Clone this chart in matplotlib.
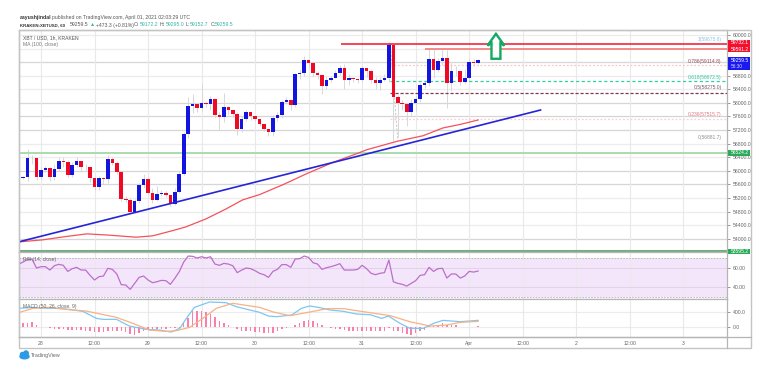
import numpy as np
import matplotlib
matplotlib.use('Agg')
import matplotlib.pyplot as plt
from matplotlib.patches import Polygon, Rectangle, Ellipse

plt.rcParams['font.family'] = ['Liberation Sans', 'DejaVu Sans']

# hours after 28 Mar 00:00, one candle per hour
first_hour = -5
first_open = 55760
closes = [55780, 55820, 56380, 56375, 55830, 56025, 56085, 55810, 56065, 56280, 56270, 55890, 56160, 56280, 56125, 56105,
          55790, 55535, 55790, 55770, 56360, 56240, 55957, 55183, 55153, 54790, 55125, 55595, 55770, 55350, 55153, 55320,
          55350, 55290, 55026, 55380, 55918, 57084, 57897, 57956, 57838, 57995, 57956, 58123, 57652, 57574, 57888, 57780,
          57682, 57241, 57525, 57721, 57603, 57525, 57378, 57241, 57133, 57545, 57643, 58025, 58093, 57946, 58848, 58868,
          59260, 59162, 58887, 58818, 58495, 58681, 58730, 58868, 59034, 58672, 58720, 58700, 58681, 59015, 58926, 58681,
          58583, 58681, 58730, 59700, 58162, 57995, 57966, 57731, 58005, 58113, 58534, 58593, 59279, 58966, 59220, 59309,
          58574, 58936, 58936, 58613, 58740, 59191, 59162, 59259.5]
highs = [55800, 55860, 56640, 56480, 56400, 56100, 56150, 56120, 56200, 56420, 56400, 56330, 56260, 56420, 56300, 56190,
         56100, 55830, 55850, 55830, 56480, 56400, 56280, 55980, 55260, 55200, 55180, 55640, 55900, 55800, 55500, 55560,
         55450, 55400, 55300, 55480, 56000, 57150, 58160, 58260, 57990, 58570, 58040, 58200, 58140, 57740, 58280, 57900,
         57780, 57720, 57620, 57800, 57680, 57600, 57460, 57300, 57200, 57640, 57720, 58090, 58170, 58110, 58880, 58980,
         59380, 59280, 59000, 58940, 58650, 58780, 58800, 58960, 59130, 59140, 58860, 58770, 58740, 59080, 59030, 58980,
         58750, 58760, 58840, 59790, 59700, 58240, 58080, 58000, 58120, 58210, 58600, 58680, 59580, 59580, 59320, 59580,
         59560, 59180, 59100, 58900, 59000, 59300, 59280, 59300]
lows = [55740, 55750, 55700, 56200, 55720, 55750, 55960, 55710, 55720, 56000, 56110, 55830, 55830, 56100, 55980, 56030,
        55680, 55450, 55430, 55600, 55650, 56160, 55900, 55100, 55080, 54740, 54760, 55060, 55500, 55280, 55040, 55100,
        55270, 55220, 54960, 55000, 55340, 55880, 56960, 57700, 57720, 57750, 57880, 57800, 57580, 57200, 57450, 57640,
        57590, 57060, 57150, 57480, 57500, 57460, 57320, 57170, 57020, 57030, 57480, 57570, 57960, 57800, 57890, 58700,
        58780, 59050, 58760, 58700, 58270, 58400, 58620, 58720, 58830, 58400, 58520, 58620, 58600, 58620, 58760, 58600,
        58400, 58380, 58640, 58620, 56890, 56990, 57800, 57310, 57620, 57760, 58040, 58440, 58500, 58720, 58900, 59120,
        57850, 58340, 58780, 58530, 58600, 58650, 59100, 59150]

ma_hours = [-4.8, 0.4, 5.6, 10.3, 15.4, 21.3, 25, 29.6, 32.5, 37, 41.5, 45.2, 49, 54.3, 59.6, 65.5, 70.8, 73.1, 79.8, 85.7, 90.1, 94, 98]
ma_values = [53909, 53968, 54066, 54144, 54105, 54046, 54085, 54242, 54350, 54585, 54879, 55144, 55300, 55595, 55918, 56250,
             56506, 56624, 56868, 57035, 57262, 57367, 57497]
trend_hours = [-4.93, 112]
trend_values = [53910, 57791]

rsi = [64.1, 66.2, 69, 69, 60, 61.4, 61.4, 57.9, 62.4, 63.8, 62.8, 56.5, 59.3, 60.7, 57.9, 57.9, 52.4, 47.6, 51, 51.7,
       59.7, 58.6, 53.8, 42.7, 42.4, 37.9, 44.1, 50.3, 51.7, 47.6, 44.8, 45.8, 47.2, 46.9, 43.1, 49.3, 56.2, 66.2, 72.4, 72.1,
       70.4, 71.7, 70.4, 71.7, 64.1, 62.8, 64.8, 64.1, 62.4, 55.2, 57.9, 60, 59.3, 57.2, 54.5, 53.1, 50.3, 56.5, 58.6, 63.5,
       63.5, 60.7, 69.3, 69.7, 72.4, 71, 65.5, 64.1, 58.6, 60.3, 61.4, 62.8, 64.5, 57.9, 57.9, 57.9, 58.6, 62.8, 59.3, 54.5,
       53.1, 54.5, 55.2, 68.3, 45.8, 44.1, 43.1, 41.3, 44.1, 46.9, 52.4, 53.1, 60.7, 56.5, 59.3, 59.7, 49.6, 53.8, 53.8, 49.6,
       51.7, 56.5, 55.8, 56.9]

macd_hours = [-4.8, -1.8, 0.4, 4.9, 9.4, 12.4, 13.9, 16.9, 19.8, 23.6, 26.6, 29.2, 31.1, 32.6, 34.4, 37.8, 41.5, 43.8, 49,
              51, 52.8, 56.2, 58.4, 60.2, 62.2, 64.8, 67.8, 70.8, 73.8, 76.4, 77.9, 80.5, 82.7, 85.7, 88, 90.1, 94, 98]
macd_line = [486, 511, 494, 477, 409, 229, 204, 204, 33, -53, -70, -121, -27, 229, 511, 648, 631, 528, 383,
             289, 272, 315, 486, 546, 511, 443, 409, 340, 323, 229, 289, 101, -27, -27, 101, 178, 144, 178]
signal_hours = [-4.8, -1.8, 1.9, 5.6, 10.1, 16.9, 20.6, 24.3, 28, 30.3, 33.3, 36.3, 39.3, 43, 49,
                52.1, 55.8, 60.3, 64.1, 67.8, 72.3, 78.3, 82.7, 87.2, 90.9, 94, 98]
signal_line = [383, 486, 511, 460, 417, 255, 101, -70, -104, -87, -2, 229, 486, 614, 511,
               392, 298, 392, 477, 477, 400, 298, 144, 33, 58, 127, 152]
macd_hist = [0, 120, 120, 137, 68, 17, 0, -26, -34, -34, -43, -68, -68, -68, -77, -86, -103, -128, -128, -120, -86, -86,
             -86, -103, -128, -171, -188, -154, -103, -68, -43, -43, -43, -34, -26, -26, -26, 103, 239, 410, 410, 410, 393,
             342, 256, 171, 103, 68, 17, -34, -86, -103, -103, -120, -128, -137, -154, -137, -86, -51, -26, 17, 68, 120, 171,
             188, 171, 103, 51, 9, -17, -34, -51, -68, -86, -103, -103, -86, -86, -86, -103, -103, -86, -26, -86, -103, -154,
             -171, -188, -154, -103, -68, 51, 34, 68, 103, 68, 68, 51, 17, 9, 9, 9, 26]

price_ticks = [60000, 58800, 58400, 58000, 57600, 57200, 56800, 56400, 56000, 55600, 55200, 54800, 54400, 54000]
grid_prices = [60000, 59600, 59200, 58800, 58400, 58000, 57600, 57200, 56800, 56400, 56000, 55600, 55200, 54800, 54400, 54000]
dark_grid = [59200, 58000, 57600, 57200, 56000, 55600, 54000]
time_ticks = [0, 12, 24, 36, 48, 60, 72, 84, 96, 108, 120, 132, 144]
time_labels = ['28', '12:00', '29', '12:00', '30', '12:00', '31', '12:00', 'Apr', '12:00', '2', '12:00', '3']

fib_start = 78.3
fib_levels = [59114.8, 58640, 58290, 57515.7]
fib_colors = ['#f7c6c6', '#2fd0a4', '#7a3b55', '#f9cfcf']
fib_styles = [(0, (1.5, 1.5)), (0, (2.5, 2)), (0, (2.5, 1.5)), (0, (1.5, 1.5))]
fib_labels = ['1(59675.8)', '0.786(59114.8)', '0.618(58672.5)', '0.5(58275.0)', '0.236(57515.7)', '0(56881.7)']
fib_label_prices = [59860, 59230, 58740, 58440, 57660, 56990]
fib_label_colors = ['#8cc5e0', '#9a4a5a', '#35c79a', '#7a5a68', '#e07a80', '#909090']

arrow_hours = [102, 103.9, 103, 103, 101, 101, 100.1]
arrow_prices = [60034, 59690, 59760, 59300, 59300, 59760, 59690]

hours = np.arange(first_hour, first_hour + len(closes))
opens = np.array([first_open] + closes[:-1])
closes_arr = np.array(closes)
up = closes_arr >= opens

W, H = 769, 377
SMALL = 3.7
fig = plt.figure(figsize=(W / 100, H / 100), dpi=100, facecolor='white')


def pane(top, bottom):
    return fig.add_axes([19 / W, 1 - bottom / H, (727 - 19) / W, (bottom - top) / H])


ax = pane(30, 252)
ax_rsi = pane(252, 299)
ax_macd = pane(299, 337)
xlim = (-4.93, 153.8)

for a in (ax, ax_rsi, ax_macd):
    a.set_xlim(xlim)
    a.yaxis.tick_right()
    a.set_xticks(time_ticks)
    a.tick_params(axis='x', length=0, labelbottom=False)
    a.tick_params(axis='y', length=2, width=0.6, color='#888888', labelsize=SMALL, labelcolor='#666666', pad=2)
    a.grid(axis='x', color='#e9e9e9', lw=0.8)
    a.set_axisbelow(True)
    for s in a.spines.values():
        s.set_color('#b5b5b5')
        s.set_linewidth(0.9)

# main pane
ax.set_ylim(53610, 60147)
ax.set_yticks(price_ticks)
ax.set_yticklabels([f'{t:.1f}' for t in price_ticks])
for p in grid_prices:
    ax.axhline(p, color='#d6d6d6' if p in dark_grid else '#ececec', lw=0.9, zorder=0)

ax.vlines(hours, lows, highs, color='#d8d8d8', lw=0.7, zorder=2)
ax.bar(hours[up], (closes_arr - opens)[up], bottom=opens[up], width=0.8, color='#1414e0', zorder=3)
ax.bar(hours[~up], (closes_arr - opens)[~up], bottom=opens[~up], width=0.8, color='#ee0a24', zorder=3)

ax.axhline(56524.2, color='#a9dcae', lw=1.4, zorder=2)
ax.axhline(53640, color='#6fae82', lw=2.2, zorder=2)
ax.plot(ma_hours, ma_values, color='#f4525a', lw=0.9, zorder=4)
ax.plot(trend_hours, trend_values, color='#2525d8', lw=1.2, zorder=5)
ax.hlines(59732.1, 78.7 - 11.4, xlim[1], color='#f0142c', lw=1.1, zorder=5)
ax.hlines(59591.2, 86.1, xlim[1], color='#f58a8a', lw=1.4, zorder=5)
for level, col, st in zip(fib_levels, fib_colors, fib_styles):
    ax.hlines(level, fib_start, xlim[1], color=col, lw=0.9, linestyles=[st], zorder=2)
ax.plot([78.3, 80], [59760, 56890], color='#cccccc', lw=0.8, ls=(0, (2, 1.5)), zorder=1)
for label, price, col in zip(fib_labels, fib_label_prices, fib_label_colors):
    ax.text(152.6, price, label, fontsize=3.6, color=col, ha='right', va='center')
ax.add_patch(Polygon(np.column_stack([arrow_hours, arrow_prices]), closed=True, fill=True, facecolor='white',
                     edgecolor='#12a960', lw=1.7, zorder=6))

# rsi pane
ax_rsi.set_ylim(27.9, 76.6)
ax_rsi.set_yticks([60, 40])
ax_rsi.set_yticklabels(['60.00', '40.00'])
ax_rsi.axhspan(30, 70, color='#f4e6fa', zorder=0, lw=0)
for v in (70, 30):
    ax_rsi.axhline(v, color='#b8b0bc', lw=0.6, ls=(0, (2, 1.5)), zorder=1)
for v in (60, 40):
    ax_rsi.axhline(v, color='#e2d2ea', lw=0.8, zorder=1)
ax_rsi.plot(hours, rsi, color='#bb6fca', lw=0.9, zorder=3)

# macd pane
ax_macd.set_ylim(-248, 725)
ax_macd.set_yticks([400, 0])
ax_macd.set_yticklabels(['400.0', '0.0'])
for v in (400, 0):
    ax_macd.axhline(v, color='#ececec', lw=0.8, zorder=0)
ax_macd.bar(hours, macd_hist, width=0.34, color='#fb7fab', zorder=2)
ax_macd.plot(macd_hours, macd_line, color='#7cc7f2', lw=0.9, zorder=3)
ax_macd.plot(signal_hours, signal_line, color='#f8b184', lw=0.9, zorder=4)
ax_macd.tick_params(axis='x', labelbottom=True, labelsize=SMALL, labelcolor='#666666', pad=3)
ax_macd.set_xticklabels(time_labels)

# overlay in pixel units for header, tags, outer frame and logo
ov = fig.add_axes([0, 0, 1, 1], facecolor='none', zorder=10)
ov.set_xlim(0, W)
ov.set_ylim(H, 0)
ov.axis('off')
ov.add_patch(Rectangle((19, 30), 732, 318, fill=False, ec='#c4c4c4', lw=1.0))
ov.plot([727, 727], [337, 348], color='#b5b5b5', lw=0.9)
ov.plot([19, 751], [337, 337], color='#b5b5b5', lw=0.9)

GREY = '#555555'
TEAL = '#33b5a5'
ov.text(20, 18, 'aayushjindal', fontsize=3.7, color='#333333', fontweight='bold', va='center')
ov.text(51.5, 18, 'published on TradingView.com, April 01, 2021 02:03:29 UTC', fontsize=3.7, color=GREY, va='center')
ov.text(20, 25, 'KRAKEN:XBTUSD, 60', fontsize=3.2, color='#333333', fontweight='bold', va='center')
head_x = [70, 90, 96, 134, 140, 160, 166, 186, 190, 211, 215]
head_txt = ['59259.5', '\u25b2', '+473.3 (+0.81%)', 'O:', '59172.2', 'H:', '59295.0', 'L:', '59152.7', 'C:', '59259.5']
head_col = [GREY, TEAL, GREY, GREY, TEAL, GREY, TEAL, GREY, TEAL, GREY, TEAL]
for hx, ht, hc in zip(head_x, head_txt, head_col):
    ov.text(hx, 25, ht, fontsize=3.7, color=hc, va='center')

ov.text(23, 37.5, 'XBT / USD, 1h, KRAKEN', fontsize=3.6, color=GREY, va='center')
ov.text(23, 44.5, 'MA (100, close)', fontsize=3.6, color='#777777', va='center')
ov.text(23, 260, 'RSI (14, close)', fontsize=3.6, color='#666666', va='center')
ov.text(23, 306.5, 'MACD (50, 26, close, 9)', fontsize=3.6, color='#666666', va='center')

for top, bottom, col, label, y_txt in [(39.5, 46, '#f4102c', '59732.1', 42.8), (46, 52.3, '#f4102c', '59591.2', 49.3),
                                       (57, 69.5, '#1a1af0', '59259.5', 60.3), (150, 156, '#2bab5a', '56524.2', 153),
                                       (249, 254, '#2bab5a', '53595.2', 251.5)]:
    ov.add_patch(Rectangle((727.5, top), 22, bottom - top, color=col, lw=0, zorder=5))
    ov.text(731, y_txt, label, fontsize=3.6, color='white', va='center', zorder=6)
ov.text(731, 66, '56:30', fontsize=3.4, color='#d8d8ff', va='center', zorder=6)

# cloud logo
for cx, cy, rw, rh in [(24.5, 356.5, 10.5, 6), (22.5, 354.5, 5.5, 5.5), (26, 353.5, 6, 6.5)]:
    ov.add_patch(Ellipse((cx, cy), rw, rh, color='#2b9be8', lw=0))
ov.text(31, 355.5, 'TradingView', fontsize=3.9, color='#666666', va='center')

fig.savefig('out.png', dpi=100)
